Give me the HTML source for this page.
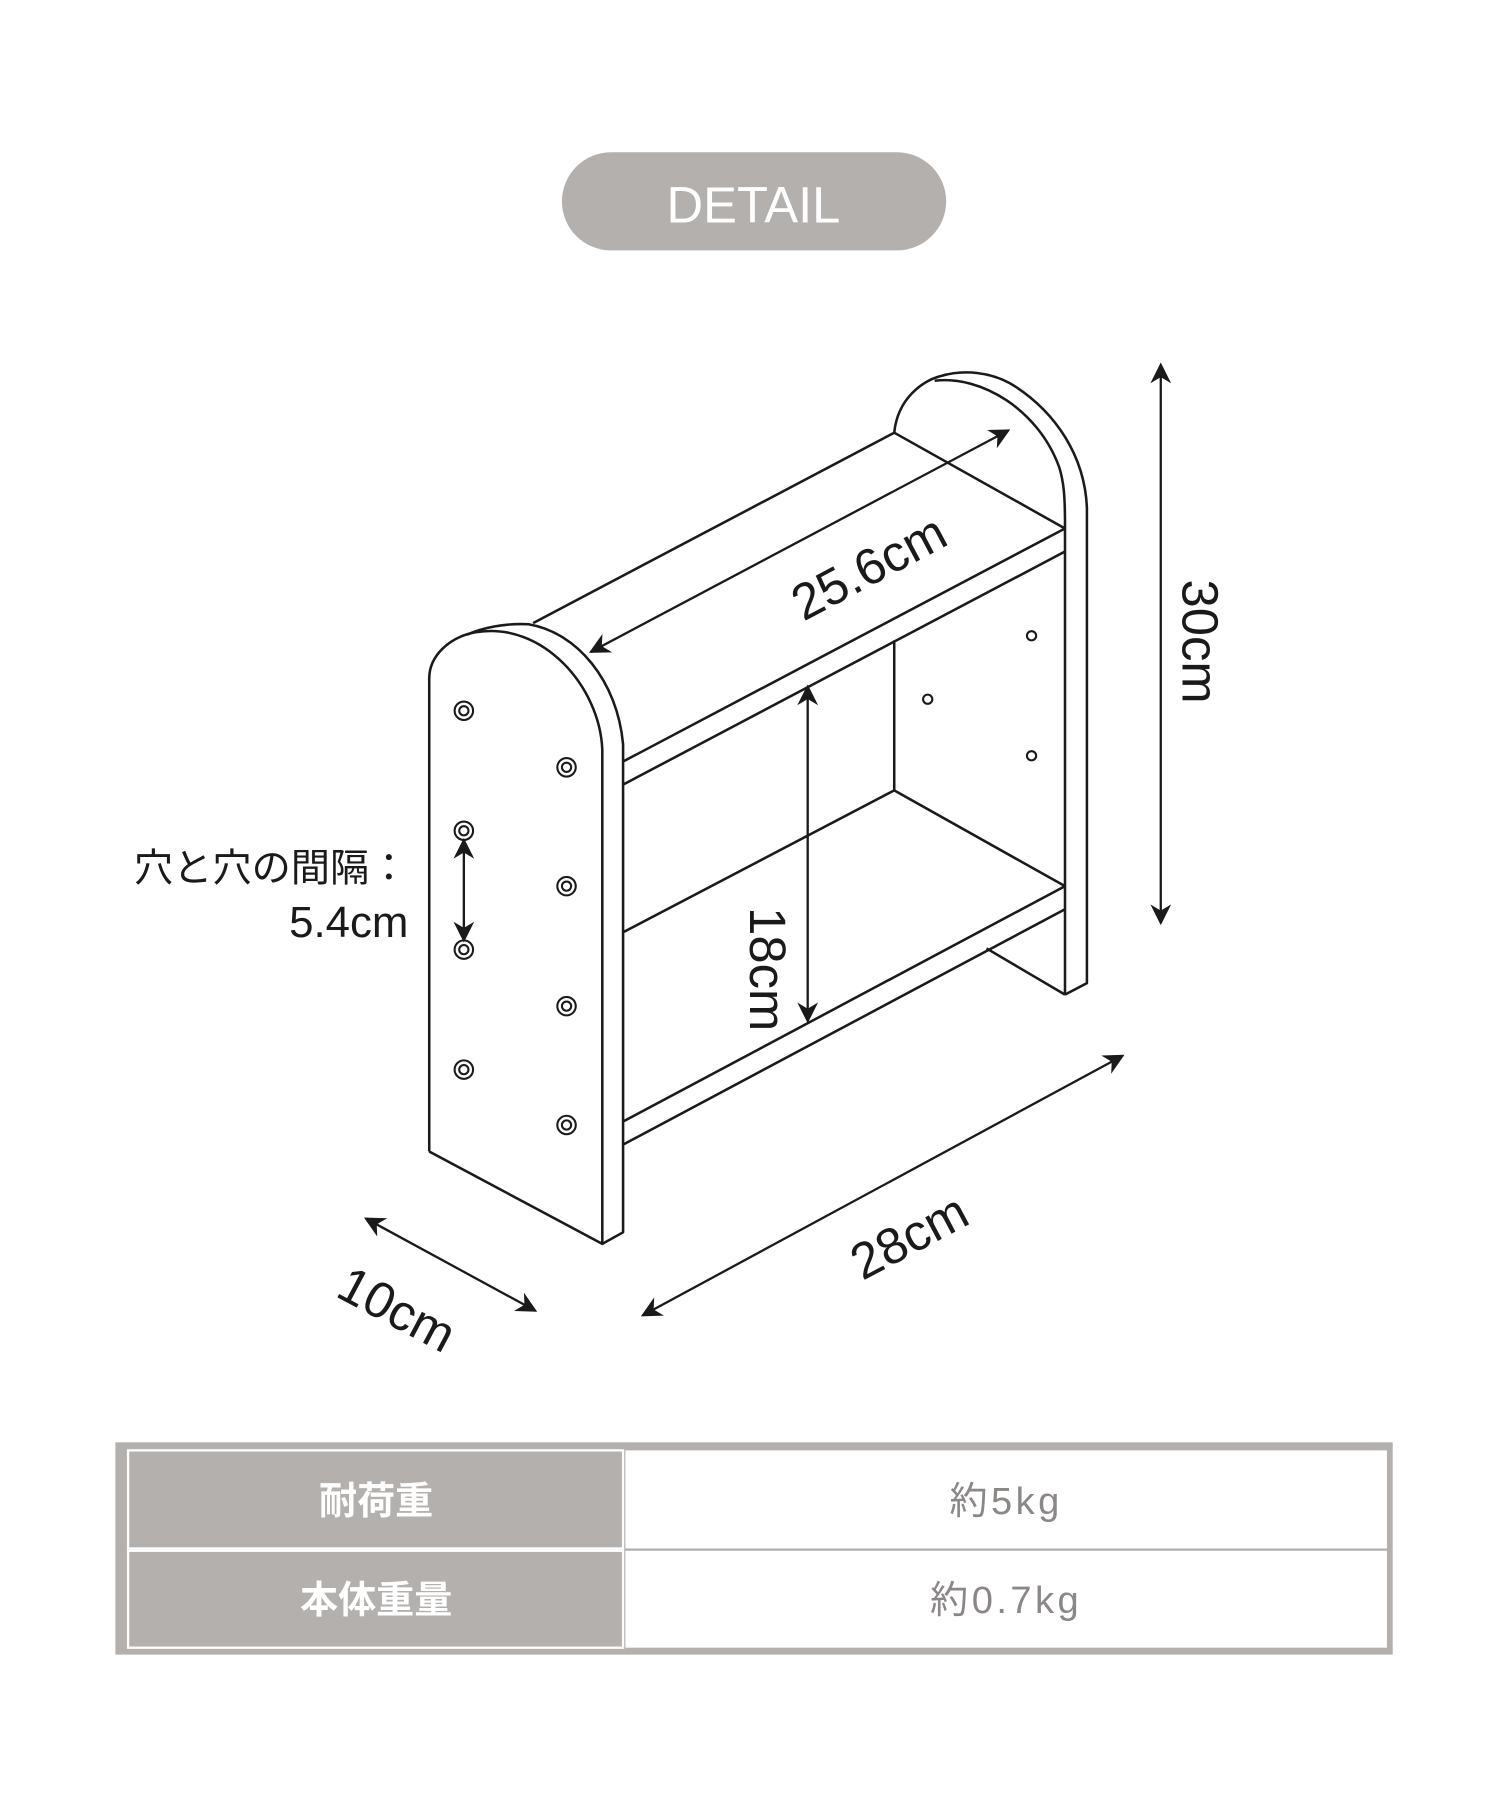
<!DOCTYPE html>
<html><head><meta charset="utf-8"><style>
html,body{margin:0;padding:0;background:#fff;}
svg{display:block;}
</style></head><body>
<svg width="1500" height="1800" viewBox="0 0 1300 1560" xmlns="http://www.w3.org/2000/svg">
<defs>
<marker id="ah" viewBox="0 0 10 10" refX="9" refY="5" markerWidth="18" markerHeight="18" markerUnits="userSpaceOnUse" orient="auto-start-reverse">
<path d="M0,0 L10,5 L0,10 L3,5 Z" fill="#1a1a1a"/>
</marker>
</defs>
<rect width="1300" height="1560" fill="#fff"/>
<rect x="487" y="132" width="333" height="85" rx="42.5" fill="#b3b0ae"/>
<text x="653" y="193" text-anchor="middle" font-family="Liberation Sans, sans-serif" font-size="44" fill="#fff">DETAIL</text>

<g fill="none" stroke="#1a1a1a" stroke-width="2.2" stroke-linejoin="round">
<path d="M775,375 C778,345 800,330 815,326 C835,320 860,322 880,335 C915,358 940,395 942,440 L942,852 L923,862"/>
<path d="M810,330 C850,325 900,355 918,405 C922,418 923,430 923,455 L923,862"/>
<path d="M855,822 L923,862"/>
<path d="M462,540 L775,375 L923,458"/>
<path d="M540,660 L923,458"/>
<path d="M540,680 L923,478"/>
<path d="M775,555 L775,685"/>
<path d="M540,808 L775,685 L923,768"/>
<path d="M540,972 L923,768"/>
<path d="M540,992 L923,788"/>
<path d="M372,998 L372,588 C372,568 390,552 412,548 C470,538 520,595 522,650 L522,1078 L372,998" fill="#fff"/>
<path d="M405,550 C418,544 438,540 458,541 C500,548 535,590 540,645 L540,1068 L522,1078"/>
</g>
<g fill="none" stroke="#1a1a1a" stroke-width="1.8">
<circle cx="402" cy="616" r="8"/><circle cx="402" cy="616" r="4"/>
<circle cx="491" cy="665" r="8"/><circle cx="491" cy="665" r="4"/>
<circle cx="402" cy="720" r="8"/><circle cx="402" cy="720" r="4"/>
<circle cx="491" cy="768" r="8"/><circle cx="491" cy="768" r="4"/>
<circle cx="402" cy="823" r="8"/><circle cx="402" cy="823" r="4"/>
<circle cx="491" cy="872" r="8"/><circle cx="491" cy="872" r="4"/>
<circle cx="402" cy="927" r="8"/><circle cx="402" cy="927" r="4"/>
<circle cx="491" cy="975" r="8"/><circle cx="491" cy="975" r="4"/>
<circle cx="894" cy="551" r="4"/><circle cx="804" cy="606" r="4"/><circle cx="894" cy="655" r="4"/>
</g>
<g stroke="#1a1a1a" stroke-width="2" marker-start="url(#ah)" marker-end="url(#ah)">
<line x1="512" y1="565" x2="874" y2="373"/>
<line x1="700" y1="595" x2="700" y2="885"/>
<line x1="1006" y1="316" x2="1006" y2="800"/>
<line x1="557" y1="1140" x2="973" y2="915"/>
<line x1="317" y1="1056" x2="464" y2="1136"/>
<line x1="402" y1="728" x2="402" y2="815"/>
</g>
<g font-family="Liberation Sans, sans-serif" font-size="44" fill="#1a1a1a">
<text transform="translate(760,505) rotate(-28)" text-anchor="middle">25.6cm</text>
<text transform="translate(650,840) rotate(90)" text-anchor="middle">18cm</text>
<text transform="translate(1025,556) rotate(90)" text-anchor="middle">30cm</text>
<text transform="translate(795,1085) rotate(-28)" text-anchor="middle">28cm</text>
<text transform="translate(337,1148) rotate(28)" text-anchor="middle">10cm</text>
</g>
<g font-family="Liberation Sans, 'Noto Sans CJK JP', sans-serif" fill="#1a1a1a" text-anchor="end">
<text x="354" y="764" font-size="34">穴と穴の間隔：</text>
<text x="354" y="812" font-size="38">5.4cm</text>
</g>
<rect x="100" y="1250" width="1107" height="184" fill="#b3b0ae"/>
<rect x="111" y="1257" width="429" height="85" fill="#b3b0ae" stroke="#fff" stroke-width="2"/>
<rect x="111" y="1344" width="429" height="84" fill="#b3b0ae" stroke="#fff" stroke-width="2"/>
<rect x="542" y="1257" width="660" height="85" fill="#fff"/>
<rect x="542" y="1344" width="660" height="84" fill="#fff"/>
<g font-family="Liberation Sans, 'Noto Sans CJK JP', sans-serif" font-size="33" text-anchor="middle">
<text x="326" y="1312" fill="#fff" font-weight="bold">耐荷重</text>
<text x="326" y="1398" fill="#fff" font-weight="bold">本体重量</text>
<text x="872" y="1312" fill="#8a8786" letter-spacing="3">約5kg</text>
<text x="872" y="1398" fill="#8a8786" letter-spacing="3">約0.7kg</text>
</g>
</svg>
</body></html>
